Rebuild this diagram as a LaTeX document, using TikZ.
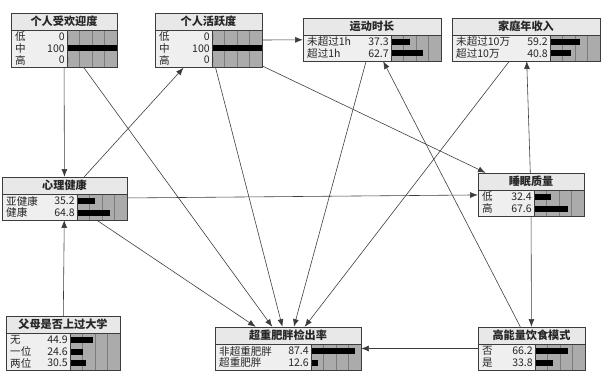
\documentclass[tikz,border=0pt]{standalone}
\usepackage{fontspec}
\setmainfont{Noto Sans CJK SC}
\usetikzlibrary{arrows.meta,fit}
\usepackage{xcolor}
\definecolor{TitleGray}{HTML}{E8E8E8}
\definecolor{BodyGray}{HTML}{EFEFEF}
\definecolor{BarGray}{HTML}{ABABAB}
\definecolor{GridGray}{HTML}{7C7C7C}
\definecolor{LineGray}{HTML}{3C3C3C}

% one monitor box: name, x, y, label width, title, rows, number of rows
\newcommand{\monitor}[7]{%
  \pgfmathsetmacro{\bw}{#4+50}
  \pgfmathsetmacro{\bh}{20+11.5*#7}
  \begin{scope}[shift={(#2,#3)}]
    \fill[TitleGray] (0,0) rectangle (\bw,17);
    \fill[BodyGray] (0,17) rectangle (#4,\bh);
    \fill[BarGray] (#4,17) rectangle (\bw,\bh);
    \foreach \g in {1,2,3}
      \draw[GridGray, line width=0.5pt] (#4+12.5*\g,17) -- (#4+12.5*\g,\bh);
    \node[titletext] at (\bw/2,8.5) {#5};
    \foreach \lab/\val [count=\i] in {#6} {
      \pgfmathsetmacro{\ry}{24+11.5*(\i-1)}
      \node[rowtext, anchor=west] at (4,\ry) {\lab};
      \node[rowtext, anchor=east] at (#4-2,\ry) {\val};
      \fill (#4+1,\ry-3) rectangle ++(0.49*\val,6);
    }
    \draw[boxline] (0,0) rectangle (\bw,\bh) (0,17) -- (\bw,17) (#4,17) -- (#4,\bh);
  \end{scope}
  \pgfmathsetmacro{\xr}{#2+\bw}
  \pgfmathsetmacro{\yb}{#3+\bh}
  \node[fit={(#2,#3) (\xr,\yb)}, inner sep=0pt] (#1) {};
}

\begin{document}
\begin{tikzpicture}[
    x=0.03cm, y=-0.03cm,
    titletext/.style={font=\fontsize{9.5}{10}\selectfont\bfseries, inner sep=0pt, text=black!85},
    rowtext/.style={font=\fontsize{9}{9}\selectfont, inner sep=0pt, text=black!85},
    boxline/.style={draw=LineGray, line width=0.6pt},
    link/.style={draw=LineGray, line width=0.5pt, -{Latex[length=6.5pt,width=5pt]}}
  ]
  \useasboundingbox[fill=white] (0,0) rectangle (601,372);

  \monitor{pop}{11}{13}{56}{个人受欢迎度}{低/0,中/100,高/0}{3}
  \monitor{act}{155}{13}{57}{个人活跃度}{低/0,中/100,高/0}{3}
  \monitor{sport}{303}{18}{88}{运动时长}{未超过1h/37.3,超过1h/62.7}{2}
  \monitor{income}{452}{18}{98}{家庭年收入}{未超过10万/59.2,超过10万/40.8}{2}
  \monitor{mental}{2}{177}{75}{心理健康}{亚健康/35.2,健康/64.8}{2}
  \monitor{sleep}{478}{173}{56}{睡眠质量}{低/32.4,高/67.6}{2}
  \monitor{parent}{6}{316}{64}{父母是否上过大学}{无/44.9,一位/24.6,两位/30.5}{3}
  \monitor{obese}{215}{327}{96}{超重肥胖检出率}{非超重肥胖/87.4,超重肥胖/12.6}{2}
  \monitor{diet}{478}{327}{57}{高能量饮食模式}{否/66.2,是/33.8}{2}

  % dependencies
  \draw[link] (pop) -- (mental);
  \draw[link] (pop) -- (obese);
  \draw[link] (mental) -- (act);
  \draw[link] (act) -- (sport);
  \draw[link] (act) -- (obese);
  \draw[link] (act) -- (sleep);
  \draw[link] (mental) -- (sleep);
  \draw[link] (mental) -- (obese);
  \draw[link] (parent) -- (mental);
  \draw[link] (sport) -- (obese);
  \draw[link] (income) -- (obese);
  \draw[link] (diet) -- (sport);
  \draw[link] (diet) -- (obese);
  \draw[link] (sleep) -- (income);
  \draw[link] (sleep) -- (diet);
\end{tikzpicture}
\end{document}
